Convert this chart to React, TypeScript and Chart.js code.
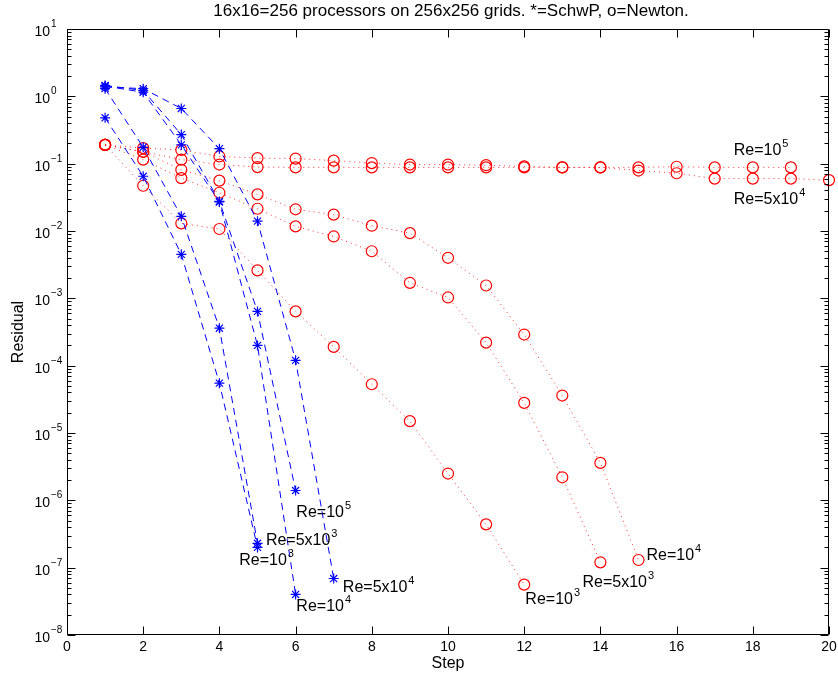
import React, { useEffect, useRef } from "react";
import { Chart, registerables } from "chart.js";

Chart.register(...registerables);

// ---------- data ----------
const steps = [1, 2, 3, 4, 5, 6, 7, 8, 9, 10, 11, 12, 13, 14, 15, 16, 17, 18, 19, 20];

// SchwP (blue *), residual per step
const schwRe1e3 = [0.48, 0.065, 0.0045, 5.5e-5, 2.0e-7];
const schwRe5e3 = [1.3, 0.175, 0.0165, 3.6e-4, 2.3e-7];
const schwRe1e4 = [1.42, 1.15, 0.19, 0.027, 2.0e-4, 4.0e-8];
const schwRe5e4 = [1.38, 1.3, 0.66, 0.167, 0.014, 1.2e-4, 6.9e-8];
const schwRe1e5 = [1.45, 1.22, 0.27, 0.0275, 6.4e-4, 1.4e-6];

// Newton (red o), residual per step
const newtRe1e3 = [0.19, 0.047, 0.013, 0.0107, 0.0026, 6.4e-4, 1.9e-4, 5.3e-5, 1.5e-5, 2.5e-6, 4.4e-7, 5.6e-8];
const newtRe5e3 = [0.19, 0.115, 0.061, 0.037, 0.0214, 0.0117, 0.0083, 0.005, 0.0017, 0.00103, 2.2e-4, 2.8e-5, 2.2e-6, 1.2e-7];
const newtRe1e4 = [0.19, 0.15, 0.081, 0.056, 0.035, 0.021, 0.0175, 0.012, 0.0093, 0.004, 0.00155, 2.9e-4, 3.6e-5, 3.6e-6, 1.3e-7];
const newtRe5e4 = [0.19, 0.17, 0.16, 0.128, 0.121, 0.119, 0.111, 0.102, 0.097, 0.097, 0.095, 0.091, 0.088, 0.088, 0.079, 0.072, 0.06, 0.06, 0.06, 0.057];
const newtRe1e5 = [0.19, 0.15, 0.115, 0.097, 0.089, 0.088, 0.088, 0.088, 0.088, 0.088, 0.088, 0.088, 0.088, 0.088, 0.088, 0.09, 0.088, 0.088, 0.088];

// axis ticks
const xTicks = [0, 2, 4, 6, 8, 10, 12, 14, 16, 18, 20];
const yDecades = [-8, -7, -6, -5, -4, -3, -2, -1, 0, 1];
const minorMultipliers = [2, 3, 4, 5, 6, 7, 8, 9];

// texts
const titleText = "16x16=256 processors on 256x256 grids. *=SchwP, o=Newton.";
const xLabel = "Step";
const yLabel = "Residual";

// curve labels: base text, exponent, anchor (step, residual) at text baseline-left
const labelBases = ["Re=10", "Re=5x10", "Re=10", "Re=5x10", "Re=10", "Re=5x10", "Re=10", "Re=10", "Re=5x10", "Re=10"];
const labelExps = ["5", "4", "5", "3", "3", "4", "4", "4", "3", "3"];
const labelSteps = [17.5, 17.5, 6.02, 5.22, 4.52, 7.24, 6.02, 15.21, 13.53, 12.03];
const labelValues = [0.133, 0.025, 5.7e-7, 2.2e-7, 1.1e-7, 4.4e-8, 2.3e-8, 1.3e-7, 5.2e-8, 2.9e-8];

// ---------- helpers ----------
const FONT = '"Liberation Sans", Arial, Helvetica, sans-serif';

function toPoints(values: number[]) {
  return values.map((v, i) => ({ x: steps[i], y: v }));
}

function schwDataset(values: number[]) {
  return {
    data: toPoints(values),
    borderColor: "#0000ff",
    borderWidth: 1,
    borderDash: [7, 5],
    pointStyle: "star",
    pointRadius: 5,
    pointBorderColor: "#0000ff",
    pointBackgroundColor: "#0000ff",
    pointBorderWidth: 1.2,
    fill: false,
    tension: 0,
    clip: false,
  };
}

function newtDataset(values: number[]) {
  return {
    data: toPoints(values),
    borderColor: "rgba(255,0,0,0.8)",
    borderWidth: 1,
    borderDash: [1, 4],
    pointStyle: "circle",
    pointRadius: 5.5,
    pointBorderColor: "#ff0000",
    pointBackgroundColor: "rgba(0,0,0,0)",
    pointBorderWidth: 1.2,
    fill: false,
    tension: 0,
    clip: false,
  };
}

function drawSup(
  ctx: CanvasRenderingContext2D,
  base: string,
  exp: string,
  x: number,
  y: number,
  baseSize: number,
  expSize: number,
  rise: number,
  align: "left" | "right"
) {
  ctx.font = `${baseSize}px ${FONT}`;
  const bw = ctx.measureText(base).width;
  ctx.textAlign = "left";
  ctx.textBaseline = "alphabetic";
  const startX = align === "left" ? x : x - bw;
  ctx.fillText(base, startX, y);
  ctx.font = `${expSize}px ${FONT}`;
  ctx.fillText(exp, startX + bw + 1, y - rise);
}

const axesPlugin = {
  id: "matlabAxes",
  afterDatasetsDraw(chart: any) {
    const { ctx, chartArea: a, scales } = chart;
    const xs = scales.x;
    const ys = scales.y;
    ctx.save();
    ctx.strokeStyle = "#000";
    ctx.fillStyle = "#000";
    ctx.lineWidth = 1;
    ctx.setLineDash([]);

    const L = Math.round(a.left) + 0.5;
    const R = Math.round(a.right) - 0.5;
    const T = Math.round(a.top) + 0.5;
    const B = Math.round(a.bottom) - 0.5;

    // box
    ctx.beginPath();
    ctx.rect(L, T, R - L, B - T);
    ctx.stroke();

    // x ticks
    ctx.beginPath();
    xTicks.forEach((t) => {
      const px = Math.round(xs.getPixelForValue(t)) + 0.5;
      ctx.moveTo(px, B);
      ctx.lineTo(px, B - 8);
      ctx.moveTo(px, T);
      ctx.lineTo(px, T + 8);
    });
    // y ticks major + minor
    yDecades.forEach((d) => {
      const py = Math.round(ys.getPixelForValue(Math.pow(10, d))) + 0.5;
      ctx.moveTo(L, py);
      ctx.lineTo(L + 8, py);
      ctx.moveTo(R, py);
      ctx.lineTo(R - 8, py);
      if (d < 1) {
        minorMultipliers.forEach((m) => {
          const pm = Math.round(ys.getPixelForValue(m * Math.pow(10, d))) + 0.5;
          ctx.moveTo(L, pm);
          ctx.lineTo(L + 4, pm);
          ctx.moveTo(R, pm);
          ctx.lineTo(R - 4, pm);
        });
      }
    });
    ctx.stroke();

    // x tick labels
    ctx.font = `14px ${FONT}`;
    ctx.textAlign = "center";
    ctx.textBaseline = "alphabetic";
    xTicks.forEach((t) => {
      const px = xs.getPixelForValue(t);
      ctx.fillText(String(t), px, a.bottom + 16);
    });

    // y tick labels
    yDecades.forEach((d) => {
      const py = ys.getPixelForValue(Math.pow(10, d));
      const e = d < 0 ? "\u2212" + String(-d) : String(d);
      drawSup(ctx, "10", e, a.left - 17, py + 7, 14, 10, 9, "right");
    });

    // axis labels
    ctx.font = `16px ${FONT}`;
    ctx.textAlign = "center";
    ctx.fillText(xLabel, (a.left + a.right) / 2, a.bottom + 33);
    ctx.save();
    ctx.translate(23, (a.top + a.bottom) / 2);
    ctx.rotate(-Math.PI / 2);
    ctx.fillText(yLabel, 0, 0);
    ctx.restore();

    // title
    ctx.font = `17px ${FONT}`;
    ctx.textAlign = "center";
    ctx.fillText(titleText, (a.left + a.right) / 2 + 3, a.top - 13);

    // curve labels
    labelBases.forEach((b, i) => {
      const px = xs.getPixelForValue(labelSteps[i]);
      const py = ys.getPixelForValue(labelValues[i]);
      drawSup(ctx, b, labelExps[i], px, py, 16, 11, 8, "left");
    });

    ctx.restore();
  },
};

export default function App() {
  const canvasRef = useRef<HTMLCanvasElement | null>(null);

  useEffect(() => {
    const canvas = canvasRef.current;
    if (!canvas) return;
    const chart = new Chart(canvas, {
      type: "line",
      data: {
        datasets: [
          schwDataset(schwRe1e3),
          schwDataset(schwRe5e3),
          schwDataset(schwRe1e4),
          schwDataset(schwRe5e4),
          schwDataset(schwRe1e5),
          newtDataset(newtRe1e3),
          newtDataset(newtRe5e3),
          newtDataset(newtRe1e4),
          newtDataset(newtRe5e4),
          newtDataset(newtRe1e5),
        ] as any,
      },
      options: {
        animation: false,
        responsive: false,
        events: [],
        layout: { padding: { left: 67, right: 9, top: 29, bottom: 44 } },
        plugins: {
          legend: { display: false },
          tooltip: { enabled: false },
          title: { display: false },
        },
        scales: {
          x: { type: "linear", min: 0, max: 20, display: false },
          y: { type: "logarithmic", min: 1e-8, max: 10, display: false },
        },
      } as any,
      plugins: [axesPlugin],
    });
    return () => chart.destroy();
  }, []);

  return (
    <div style={{ position: "absolute", left: 0, top: 0, width: 838, height: 679, background: "#fff" }}>
      <canvas ref={canvasRef} width={838} height={679} style={{ display: "block" }} />
    </div>
  );
}
